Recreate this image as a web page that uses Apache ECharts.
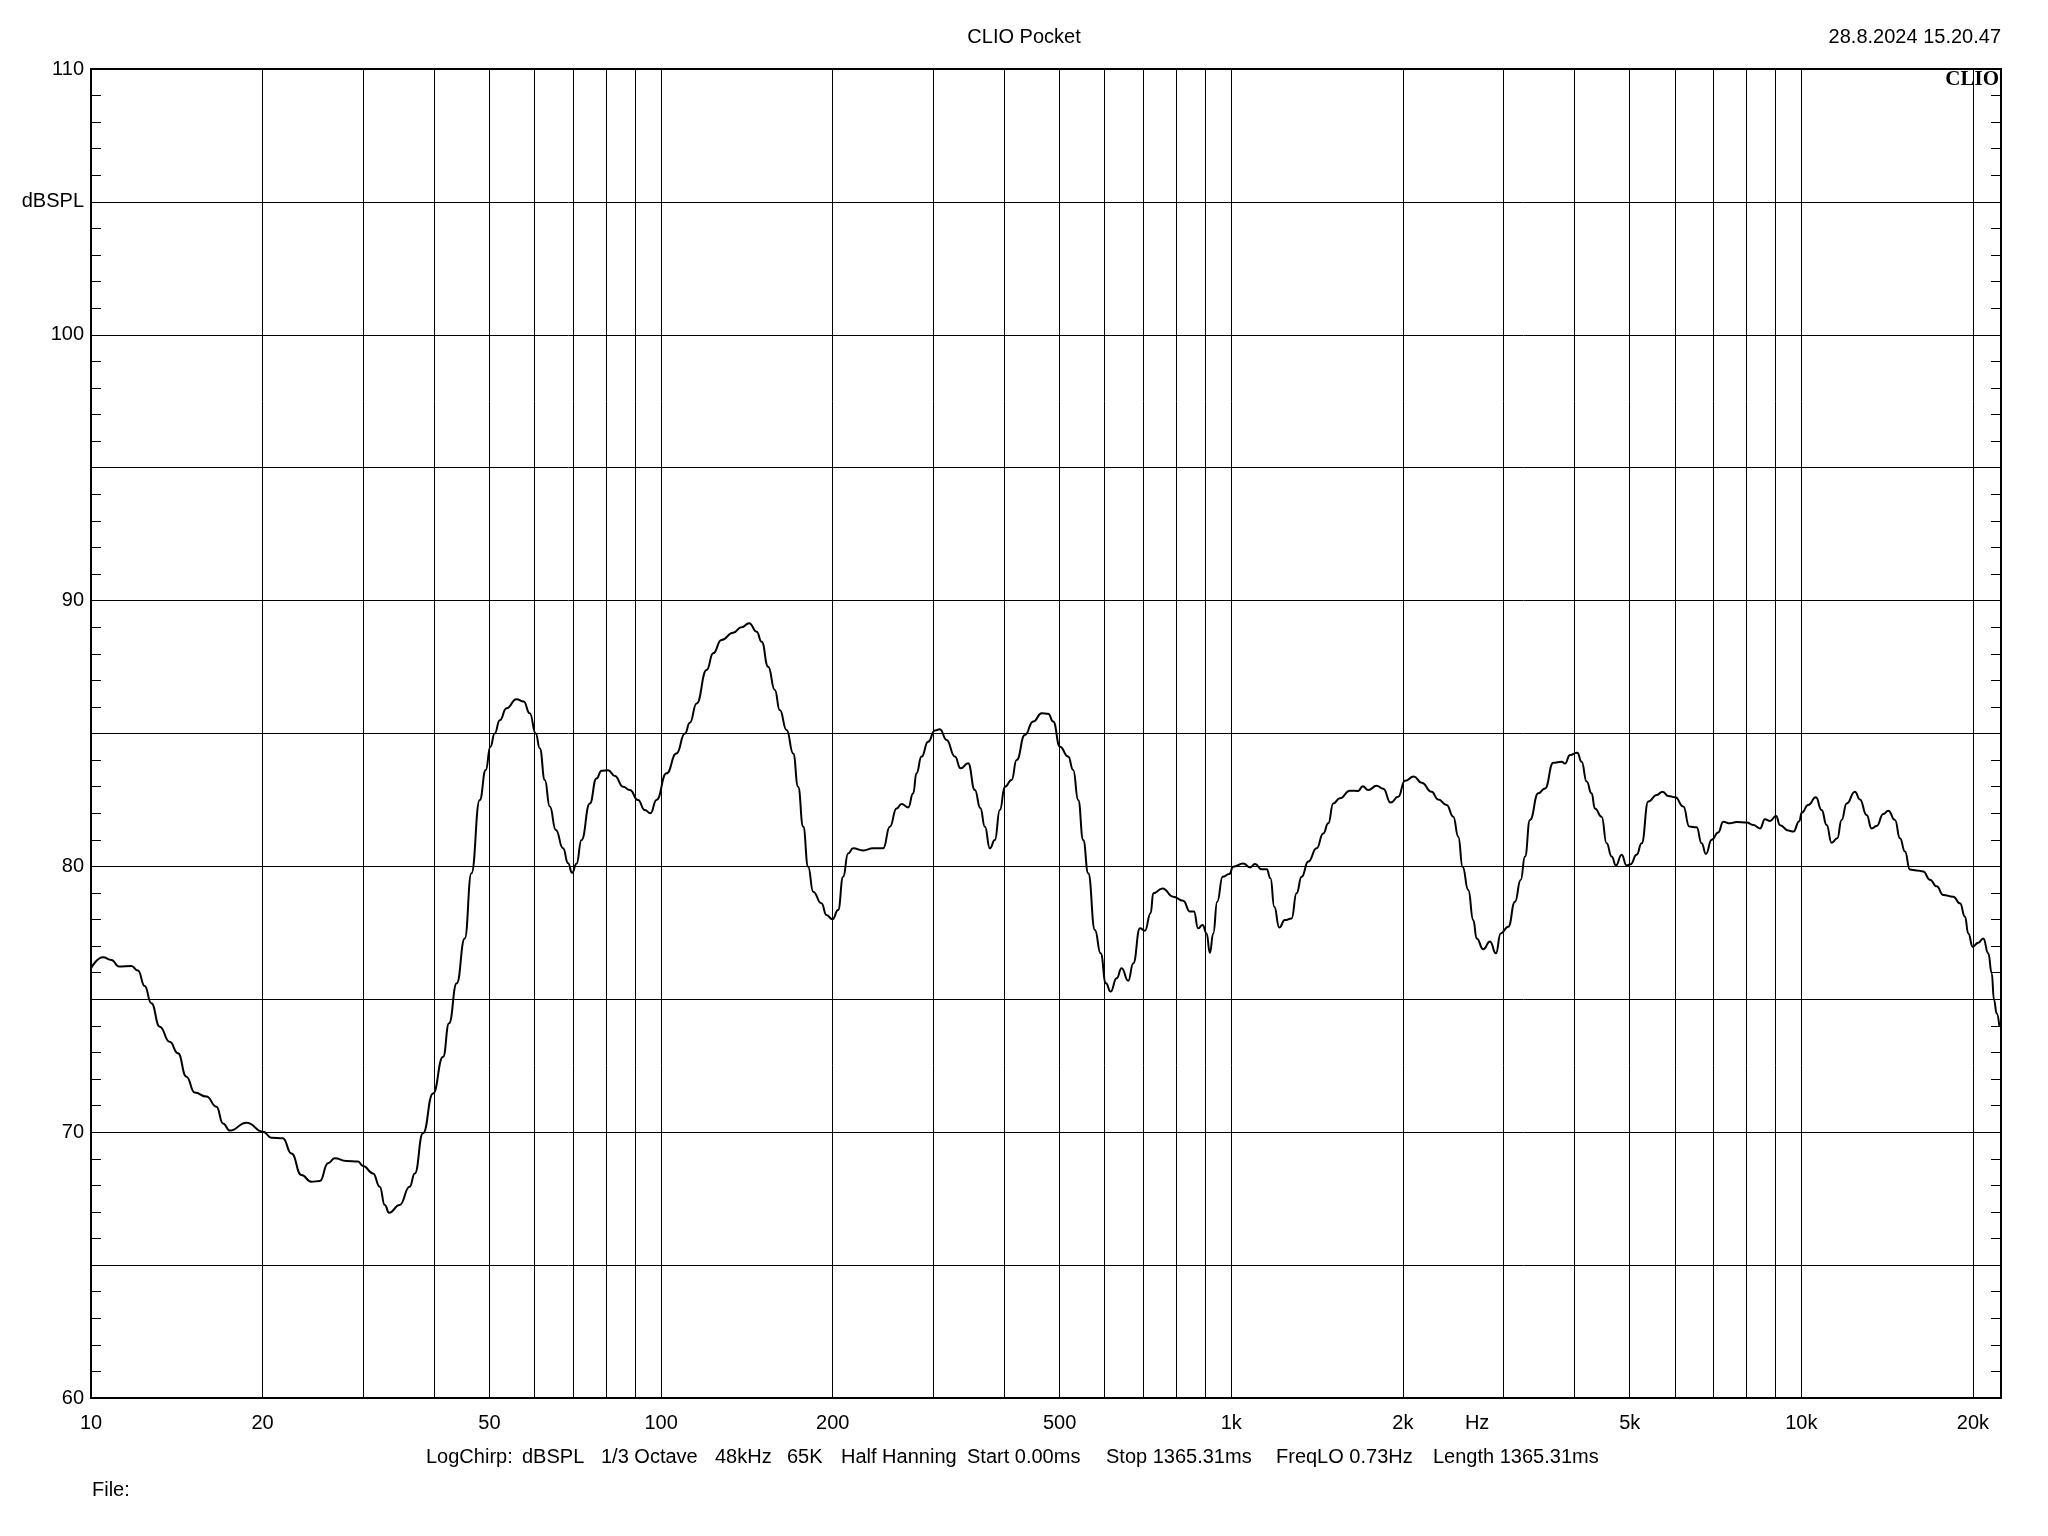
<!DOCTYPE html>
<html>
<head>
<meta charset="utf-8">
<script src="https://cdn.jsdelivr.net/npm/echarts@6/dist/echarts.min.js"></script>
<style>
html,body{margin:0;padding:0;background:#fff;}
#chart{width:2048px;height:1536px;}
</style>
</head>
<body>
<div id="chart"></div>
<script>
// ---- data ----
const freqHz = [10.0,10.5,10.86,11.2,11.77,12.09,12.42,12.76,13.2,13.74,14.21,14.7,15.2,15.94,16.6,17.04,17.52,18.74,20.04,20.73,21.7,22.47,23.39,24.35,25.19,26.05,26.76,28.05,29.41,30.0,31.24,32.1,32.76,33.33,34.79,36.22,36.98,38.22,39.8,41.46,42.46,43.8,45.25,46.48,48.07,49.25,50.18,51.06,52.12,53.56,55.76,57.4,58.83,60.27,61.27,62.52,63.79,65.37,67.3,68.68,69.8,71.06,72.5,74.98,77.02,78.6,80.7,82.95,85.77,88.13,91.1,93.6,95.8,98.15,102.2,106.4,110.1,112.3,115.4,120.2,123.4,127.6,133.8,138.4,142.7,147.1,150.1,154.1,158.3,161.5,166,170.5,173.9,177.5,181.1,184.8,191.1,195,199.8,204.4,208.6,212.8,217.2,226.1,235.5,245.2,251.9,258.8,264.1,271.3,276.8,280.5,286.3,294,302.2,308.3,316.7,327.6,335.2,345.6,355.1,363,369.8,377.3,384.9,392.8,400.9,411.9,420.3,434.5,449.4,465,477.5,487.3,500.7,517.6,528.2,539,550.1,561.3,576.7,590.1,602.9,614.4,629.5,642.3,659.7,673.2,691.7,705.8,722.2,729.9,757.9,791.1,823.8,846.3,860.2,874.9,890.8,905.3,917.5,929.9,945,966,992,1008,1050,1079,1101,1131,1154,1172,1190,1214,1242,1276,1302,1329,1365,1412,1450,1480,1510,1551,1615,1670,1701,1739,1799,1848,1904,1963,2017,2091,2158,2246,2307,2387,2452,2502,2546,2605,2658,2695,2768,2844,2913,2969,3062,3146,3219,3276,3342,3456,3551,3672,3799,3850,3929,4046,4118,4202,4286,4345,4464,4555,4648,4730,4840,4937,5018,5142,5247,5390,5576,5712,5843,6010,6209,6361,6552,6686,6803,6961,7150,7295,7497,7701,8021,8237,8463,8635,8811,9029,9176,9489,9683,9920,10014,10283,10607,10854,11076,11302,11561,11768,12009,12417,12671,13017,13283,13556,13924,14209,14597,14895,15198,15506,15931,16364,16812,17274,17739,18475,18982,19366,19627,19979,20439,20853,21280,21575,21775,22012,22246];
const splDb = [76.17,76.58,76.48,76.23,76.25,76.08,75.5,74.85,73.97,73.4,72.97,72.09,71.49,71.34,70.96,70.33,70.06,70.36,70.02,69.79,69.77,69.2,68.39,68.14,68.16,68.83,69.02,68.92,68.9,68.73,68.45,67.95,67.26,66.97,67.26,67.95,68.45,69.96,71.46,72.84,74.1,75.6,77.29,79.74,82.5,83.63,84.5,85.0,85.5,85.95,86.29,86.2,85.76,85.0,84.44,83.25,82.25,81.37,80.68,80.12,79.76,80.1,80.99,82.37,83.31,83.6,83.62,83.4,83.0,82.87,82.5,82.12,82.0,82.5,83.5,84.25,85.0,85.4,86.13,87.39,88.02,88.52,88.79,89.0,89.15,88.83,88.45,87.51,86.64,85.88,85.13,84.25,83.0,81.5,79.99,79.05,78.61,78.17,78.01,78.36,79.61,80.49,80.68,80.6,80.68,80.68,81.49,82.18,82.35,82.22,82.75,83.5,84.13,84.69,85.11,85.16,84.76,84.13,83.69,83.88,82.87,82.2,81.49,80.68,80.99,82.12,83.0,83.25,84.0,84.94,85.45,85.76,85.74,85.45,84.5,84.13,83.63,82.5,80.99,79.74,77.61,76.73,75.6,75.29,75.79,76.17,75.7,76.35,77.67,77.58,78.24,78.99,79.17,78.86,78.71,78.3,78.3,77.67,77.8,77.48,76.75,77.48,78.67,79.61,79.71,79.99,80.11,79.96,80.09,79.89,79.89,79.55,78.48,77.7,77.98,78.04,78.99,79.61,80.18,80.68,81.24,81.62,82.37,82.56,82.85,82.84,83.02,82.87,83.03,82.92,82.4,82.62,83.22,83.38,83.15,82.81,82.52,82.31,81.87,81.12,79.99,79.11,77.98,77.29,76.88,77.17,76.73,77.48,77.73,78.67,79.49,80.37,81.75,82.75,82.93,83.9,83.94,83.87,84.19,84.28,83.94,83.19,82.75,82.18,81.87,80.87,80.37,80.04,80.44,80.04,80.08,80.44,80.87,82.44,82.69,82.81,82.65,82.6,82.25,81.5,81.47,80.87,80.47,81.0,81.28,81.68,81.62,81.67,81.65,81.56,81.43,81.77,81.71,81.9,81.55,81.35,81.31,81.7,82.02,82.31,82.6,82.12,81.56,80.89,81.06,81.75,82.37,82.81,82.52,81.93,81.43,81.52,81.97,82.09,81.75,81.06,80.56,79.88,79.85,79.81,79.5,79.25,78.92,78.86,78.61,78.11,77.48,76.98,77.13,77.29,76.73,75.98,74.98,74.47,74.0];

const gridFreqs = [20,30,40,50,60,70,80,90,100,200,300,400,500,600,700,800,900,1000,2000,3000,4000,5000,6000,7000,8000,9000,10000,20000];
const xLabelValues = [10,20,50,100,200,500,1000,2000,2700,5000,10000,20000];
const xLabelTexts  = ['10','20','50','100','200','500','1k','2k','Hz','5k','10k','20k'];
const yLabelTexts = {110:'110',105:'dBSPL',100:'100',90:'90',80:'80',70:'70',60:'60'};

const titleText = 'CLIO Pocket';
const dateText = '28.8.2024 15.20.47';
const infoItems = ['LogChirp:','dBSPL','1/3 Octave','48kHz','65K','Half Hanning','Start 0.00ms','Stop 1365.31ms','FreqLO 0.73Hz','Length 1365.31ms'];
const infoX = [426,522,601,715,787,841,967,1106,1276,1433];

// ---- chart ----
const FONT = "'Liberation Sans', Arial, sans-serif";
const chart = echarts.init(document.getElementById('chart'), null, {renderer:'canvas'});
const seriesData = freqHz.map((f,i)=>[f, splDb[i]]);

const yAxisCommon = {
  type:'value', min:60, max:110, interval:5,
  axisLine:{show:true, lineStyle:{color:'#000', width:2}},
  axisTick:{show:true, inside:true, length:10, lineStyle:{color:'#000', width:1}},
  minorTick:{show:true, splitNumber:5, length:10, lineStyle:{color:'#000', width:1}},
  splitLine:{show:false}
};

const graphics = [
  {type:'text', left:'center', top:27, style:{text:titleText, font:"20px "+FONT, fill:'#000'}},
  {type:'text', right:47, top:27, style:{text:dateText, font:"20px "+FONT, fill:'#000'}},
  {type:'text', right:49, top:69, style:{text:'CLIO', font:"bold 21px 'Liberation Serif', 'Times New Roman', serif", fill:'#000'}},
  {type:'text', left:92, top:1480, style:{text:'File:', font:"20px "+FONT, fill:'#000'}}
];
infoItems.forEach((t,i)=>{
  graphics.push({type:'text', left:infoX[i], top:1447, style:{text:t, font:"20px "+FONT, fill:'#000'}});
});

const option = {
  animation:false,
  backgroundColor:'#fff',
  grid:{left:91, right:47, top:69, bottom:138, show:true, borderColor:'#000', borderWidth:2, backgroundColor:'#fff'},
  xAxis:{
    type:'log', logBase:10, min:10, max:22400,
    axisLine:{show:true, lineStyle:{color:'#000', width:2}},
    axisTick:{show:false},
    splitLine:{show:false},
    axisLabel:{
      show:true, customValues:xLabelValues, margin:15, color:'#000', fontSize:20, fontFamily:FONT,
      formatter:function(v){
        for (let i=0;i<xLabelValues.length;i++){ if (Math.abs(xLabelValues[i]-v) < 1e-6*xLabelValues[i]) return xLabelTexts[i]; }
        return '';
      }
    }
  },
  yAxis:[
    Object.assign({}, yAxisCommon, {
      position:'left',
      splitLine:{show:true, lineStyle:{color:'#000', width:1}},
      axisLabel:{show:true, margin:7, color:'#000', fontSize:20, fontFamily:FONT,
        formatter:function(v){ return yLabelTexts[Math.round(v)] || ''; }}
    }),
    Object.assign({}, yAxisCommon, {position:'right', axisLabel:{show:false}})
  ],
  graphic: graphics,
  series:[{
    type:'line',
    data:seriesData,
    showSymbol:false, symbol:'none',
    smooth:0.5, smoothMonotone:'x',
    lineStyle:{color:'#000', width:2},
    z:5,
    markLine:{
      silent:true, symbol:['none','none'], animation:false,
      label:{show:false},
      lineStyle:{color:'#000', width:1, type:'solid'},
      emphasis:{disabled:true},
      data: gridFreqs.map(f=>({xAxis:f}))
    }
  }]
};
chart.setOption(option);
</script>
</body>
</html>
